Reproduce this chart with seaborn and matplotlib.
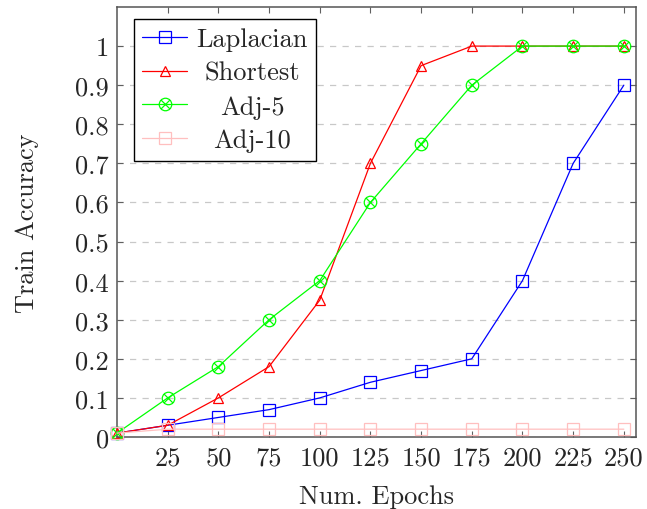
import numpy as np
import pandas as pd
import matplotlib
matplotlib.use("Agg")
import matplotlib.pyplot as plt
from matplotlib.path import Path
import seaborn as sns

epochs = [0, 25, 50, 75, 100, 125, 150, 175, 200, 225, 250]
laplacian = [0.01, 0.03, 0.05, 0.07, 0.10, 0.14, 0.17, 0.20, 0.40, 0.70, 0.90]
shortest = [0.01, 0.03, 0.10, 0.18, 0.35, 0.70, 0.95, 1.00, 1.00, 1.00, 1.00]
adj5 = [0.01, 0.10, 0.18, 0.30, 0.40, 0.60, 0.75, 0.90, 1.00, 1.00, 1.00]
adj10 = [0.01, 0.02, 0.02, 0.02, 0.02, 0.02, 0.02, 0.02, 0.02, 0.02, 0.02]
series_names = ["Laplacian", "Shortest", "Adj-5", "Adj-10"]
x_ticks = [25, 50, 75, 100, 125, 150, 175, 200, 225, 250]
y_ticks = [0, 0.1, 0.2, 0.3, 0.4, 0.5, 0.6, 0.7, 0.8, 0.9, 1.0]
y_tick_labels = ["0", "0.1", "0.2", "0.3", "0.4", "0.5", "0.6", "0.7", "0.8", "0.9", "1"]

sns.set_theme(style="white")
plt.rcParams["font.family"] = ["cmr10", "DejaVu Serif"]
plt.rcParams["axes.formatter.use_mathtext"] = True
plt.rcParams["mathtext.fontset"] = "cm"

FS = 19

# circled-x marker
circ = Path.unit_circle()
d = np.sqrt(0.5)
xpath = Path([(-d, -d), (d, d), (-d, d), (d, -d)],
             [Path.MOVETO, Path.LINETO, Path.MOVETO, Path.LINETO])
otimes = Path.make_compound_path(circ, xpath)

styles = {
    "Laplacian": dict(color="#0000FF", marker="s", ms=9),
    "Shortest": dict(color="#FF0000", marker="^", ms=7.5),
    "Adj-5": dict(color="#00FF00", marker=otimes, ms=9),
    "Adj-10": dict(color="#FFBFBF", marker="s", ms=9),
}
values = {"Laplacian": laplacian, "Shortest": shortest, "Adj-5": adj5, "Adj-10": adj10}

fig = plt.figure(figsize=(6.47, 5.10), dpi=100)
ax = fig.add_axes([117 / 647, (510 - 438) / 510, (636 - 117) / 647, (438 - 8) / 510])

for name in series_names:
    df = pd.DataFrame({"epoch": epochs, "acc": values[name]})
    st = styles[name]
    sns.lineplot(data=df, x="epoch", y="acc", ax=ax, label=name,
                 color=st["color"], marker=st["marker"], markersize=st["ms"],
                 markerfacecolor="none", markeredgecolor=st["color"],
                 markeredgewidth=0.9, linewidth=0.9, zorder=3, clip_on=False)

ax.set_xlim(0, 256)
ax.set_ylim(0, 1.1)
ax.set_xticks(x_ticks)
ax.set_xticklabels([str(t) for t in x_ticks])
ax.set_yticks(y_ticks)
ax.set_yticklabels(y_tick_labels)
ax.yaxis.grid(True, color="#c8c8c8", linestyle=(0, (5, 5)), linewidth=0.9)
ax.xaxis.grid(False)
ax.set_axisbelow(True)
ax.tick_params(axis="both", direction="in", length=4, width=0.8, color="#606060",
               labelsize=FS, top=True, right=True, bottom=True, left=True, pad=6)
for s in ax.spines.values():
    s.set_color("#555555")
    s.set_linewidth(1.1)
ax.set_xlabel("Num. Epochs", fontsize=FS, labelpad=11)
ax.set_ylabel("Train Accuracy", fontsize=FS, labelpad=26)

leg = ax.legend(loc="upper left", bbox_to_anchor=(17 / 519, 1 - 12 / 430), fontsize=FS,
                frameon=True, fancybox=False, edgecolor="black", framealpha=1,
                handlelength=1.7, borderpad=0.32, labelspacing=0.38, handletextpad=0.35,
                borderaxespad=0)
leg.get_frame().set_linewidth(1.0)

# center the legend labels like the reference
fig.canvas.draw()
r = fig.canvas.get_renderer()
texts = leg.get_texts()
widths = [t.get_window_extent(r).width for t in texts]
W = max(widths)
for t, w in zip(texts, widths):
    t.set_x((W - w) / 2)

fig.savefig("out.png", dpi=100)
